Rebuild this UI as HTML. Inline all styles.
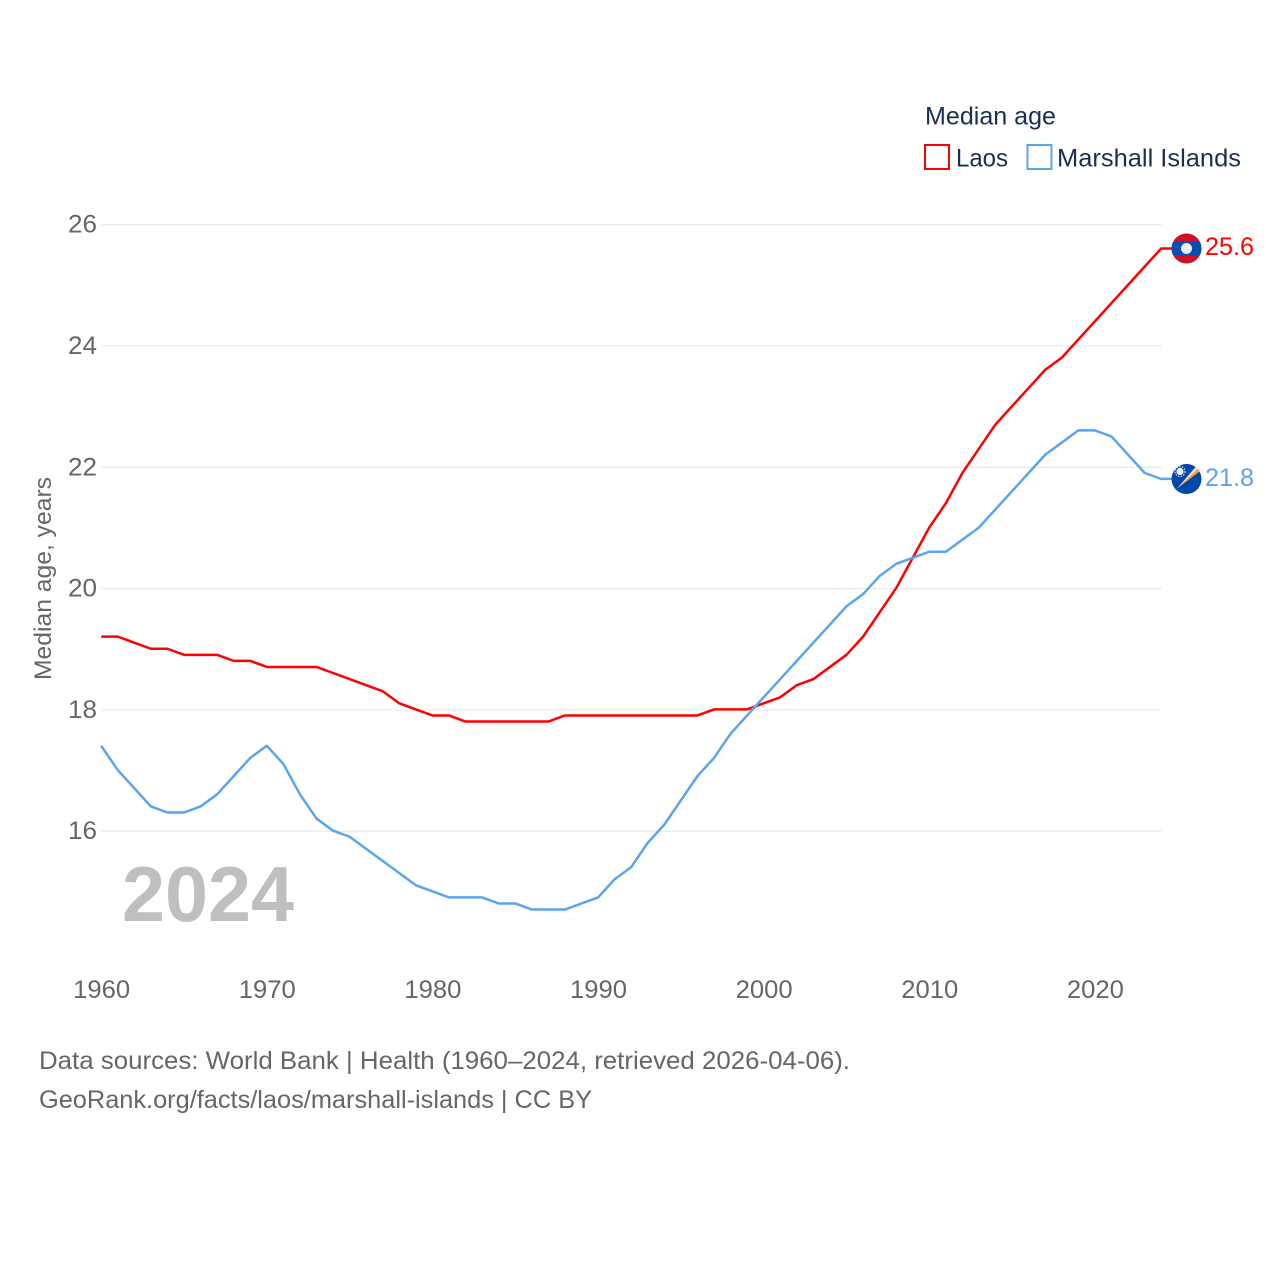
<!DOCTYPE html>
<html lang="en">
<head>
<meta charset="utf-8">
<title>Median age: Laos and Marshall Islands</title>
<style>
html,body{margin:0;padding:0;background:#fff;}
svg{display:block;font-family:"Liberation Sans",sans-serif;}
</style>
</head>
<body>
<svg id="chart" xmlns="http://www.w3.org/2000/svg" width="1280" height="1280" viewBox="0 0 1280 1280">
  <rect x="0" y="0" width="1280" height="1280" fill="#ffffff"/>
  <g id="grid"></g>
  <g id="yticks"></g>
  <g id="xticks"></g>
  <text transform="translate(51,680) rotate(-90)" font-size="24" fill="#666666" textLength="203" lengthAdjust="spacingAndGlyphs">Median age, years</text>
  <text x="122" y="921" font-size="78" font-weight="700" fill="#bfbfbf" textLength="172" lengthAdjust="spacingAndGlyphs">2024</text>
  <g id="series"></g>

  <g>
    <text x="925" y="124.5" font-size="25" fill="#1a2f50" textLength="131" lengthAdjust="spacingAndGlyphs">Median age</text>
    <rect x="925" y="145" width="24" height="24" fill="#ffffff" stroke="#ff0000" stroke-width="2"/>
    <text x="956" y="166.5" font-size="25" fill="#1a2f50" textLength="52" lengthAdjust="spacingAndGlyphs">Laos</text>
    <rect x="1027.5" y="145" width="24" height="24" fill="#ffffff" stroke="#5ba4ee" stroke-width="2"/>
    <text x="1057" y="166.5" font-size="25" fill="#1a2f50" textLength="184" lengthAdjust="spacingAndGlyphs">Marshall Islands</text>
  </g>

  <g>
    <clipPath id="clipLaos"><circle cx="1186.5" cy="248.5" r="15"/></clipPath>
    <g clip-path="url(#clipLaos)">
      <rect x="1171" y="232" width="31" height="33" fill="#ce1126"/>
      <rect x="1171" y="241.7" width="31" height="13.6" fill="#0a4db0"/>
      <circle cx="1186.5" cy="248.5" r="5.5" fill="#eeeeee"/>
    </g>
  </g>
  <text x="1205" y="255" font-size="25" fill="#ff0000" textLength="49" lengthAdjust="spacingAndGlyphs">25.6</text>

  <g>
    <clipPath id="clipMh"><circle cx="1186.5" cy="479" r="15"/></clipPath>
    <g clip-path="url(#clipMh)">
      <rect x="1171" y="463" width="31" height="32" fill="#0047ab"/>
      <polygon points="1176.5,489 1203,464.5 1203,469" fill="#f5a02e"/>
      <polygon points="1176.5,489 1199,463 1203,464.5" fill="#f6d9c6"/>
      <circle cx="1180" cy="471.5" r="3.6" fill="#eeeeee"/>
      <circle cx="1180" cy="471.5" r="5" fill="none" stroke="#eeeeee" stroke-width="1.2" stroke-dasharray="1.4 1.4"/>
    </g>
  </g>
  <text x="1205" y="486" font-size="25" fill="#5ba4ee" textLength="49" lengthAdjust="spacingAndGlyphs">21.8</text>

  <text x="39" y="1069" font-size="25" fill="#666666" textLength="811" lengthAdjust="spacingAndGlyphs">Data sources: World Bank | Health (1960–2024, retrieved 2026-04-06).</text>
  <text x="39" y="1108" font-size="25" fill="#666666" textLength="553" lengthAdjust="spacingAndGlyphs">GeoRank.org/facts/laos/marshall-islands | CC BY</text>
</svg>
<script>
var years = [1960,1961,1962,1963,1964,1965,1966,1967,1968,1969,1970,1971,1972,1973,1974,1975,1976,1977,1978,1979,1980,1981,1982,1983,1984,1985,1986,1987,1988,1989,1990,1991,1992,1993,1994,1995,1996,1997,1998,1999,2000,2001,2002,2003,2004,2005,2006,2007,2008,2009,2010,2011,2012,2013,2014,2015,2016,2017,2018,2019,2020,2021,2022,2023,2024];
var laosValues = [19.2,19.2,19.1,19.0,19.0,18.9,18.9,18.9,18.8,18.8,18.7,18.7,18.7,18.7,18.6,18.5,18.4,18.3,18.1,18.0,17.9,17.9,17.8,17.8,17.8,17.8,17.8,17.8,17.9,17.9,17.9,17.9,17.9,17.9,17.9,17.9,17.9,18.0,18.0,18.0,18.1,18.2,18.4,18.5,18.7,18.9,19.2,19.6,20.0,20.5,21.0,21.4,21.9,22.3,22.7,23.0,23.3,23.6,23.8,24.1,24.4,24.7,25.0,25.3,25.6];
var marshallValues = [17.4,17.0,16.7,16.4,16.3,16.3,16.4,16.6,16.9,17.2,17.4,17.1,16.6,16.2,16.0,15.9,15.7,15.5,15.3,15.1,15.0,14.9,14.9,14.9,14.8,14.8,14.7,14.7,14.7,14.8,14.9,15.2,15.4,15.8,16.1,16.5,16.9,17.2,17.6,17.9,18.2,18.5,18.8,19.1,19.4,19.7,19.9,20.2,20.4,20.5,20.6,20.6,20.8,21.0,21.3,21.6,21.9,22.2,22.4,22.6,22.6,22.5,22.2,21.9,21.8];
var yTickValues = [16,18,20,22,24,26];
var xTickValues = [1960,1970,1980,1990,2000,2010,2020];

var NS = 'http://www.w3.org/2000/svg';
function xScale(year){ return 101.2 + (year - 1960) * (1161.2 - 101.2) / 64; }
function yScale(v){ return 224.7 + (26 - v) * 60.65; }

var gridG = document.getElementById('grid');
var yG = document.getElementById('yticks');
var xG = document.getElementById('xticks');
var seriesG = document.getElementById('series');

yTickValues.forEach(function(v){
  var line = document.createElementNS(NS, 'line');
  
  
  line.setAttribute('x1', 101.5);
  line.setAttribute('x2', 1161.5);
  line.setAttribute('y1', yScale(v));
  line.setAttribute('y2', yScale(v));
  line.setAttribute('stroke', '#ebebeb');
  line.setAttribute('stroke-width', 1.3);
  gridG.appendChild(line);

  var t = document.createElementNS(NS, 'text');
  
  
  t.setAttribute('x', 68);
  t.setAttribute('y', yScale(v) + 8);
  t.setAttribute('font-size', 25);
  t.setAttribute('fill', '#666666');
  t.setAttribute('textLength', 29);
  t.setAttribute('lengthAdjust', 'spacingAndGlyphs');
  t.textContent = v;
  yG.appendChild(t);
});

xTickValues.forEach(function(v){
  var t = document.createElementNS(NS, 'text');
  
  
  t.setAttribute('x', xScale(v) - 28);
  t.setAttribute('y', 998);
  t.setAttribute('font-size', 25);
  t.setAttribute('fill', '#666666');
  t.setAttribute('textLength', 57);
  t.setAttribute('lengthAdjust', 'spacingAndGlyphs');
  t.textContent = v;
  xG.appendChild(t);
});

function drawSeries(values, color, name){
  var pts = values.map(function(v, i){ return xScale(years[i]).toFixed(2) + ',' + (yScale(v) - 0.5).toFixed(2); });
  var last = values[values.length - 1];
  pts.push('1172,' + (yScale(last) - 0.5).toFixed(2));
  var pl = document.createElementNS(NS, 'polyline');
  
  
  pl.setAttribute('points', pts.join(' '));
  pl.setAttribute('fill', 'none');
  pl.setAttribute('stroke', color);
  pl.setAttribute('stroke-width', 2.5);
  pl.setAttribute('stroke-linejoin', 'round');
  seriesG.appendChild(pl);
}
drawSeries(laosValues, '#ff0000', 'series-line-laos');
drawSeries(marshallValues, '#5ba4ee', 'series-line-marshall-islands');
</script>
</body>
</html>
